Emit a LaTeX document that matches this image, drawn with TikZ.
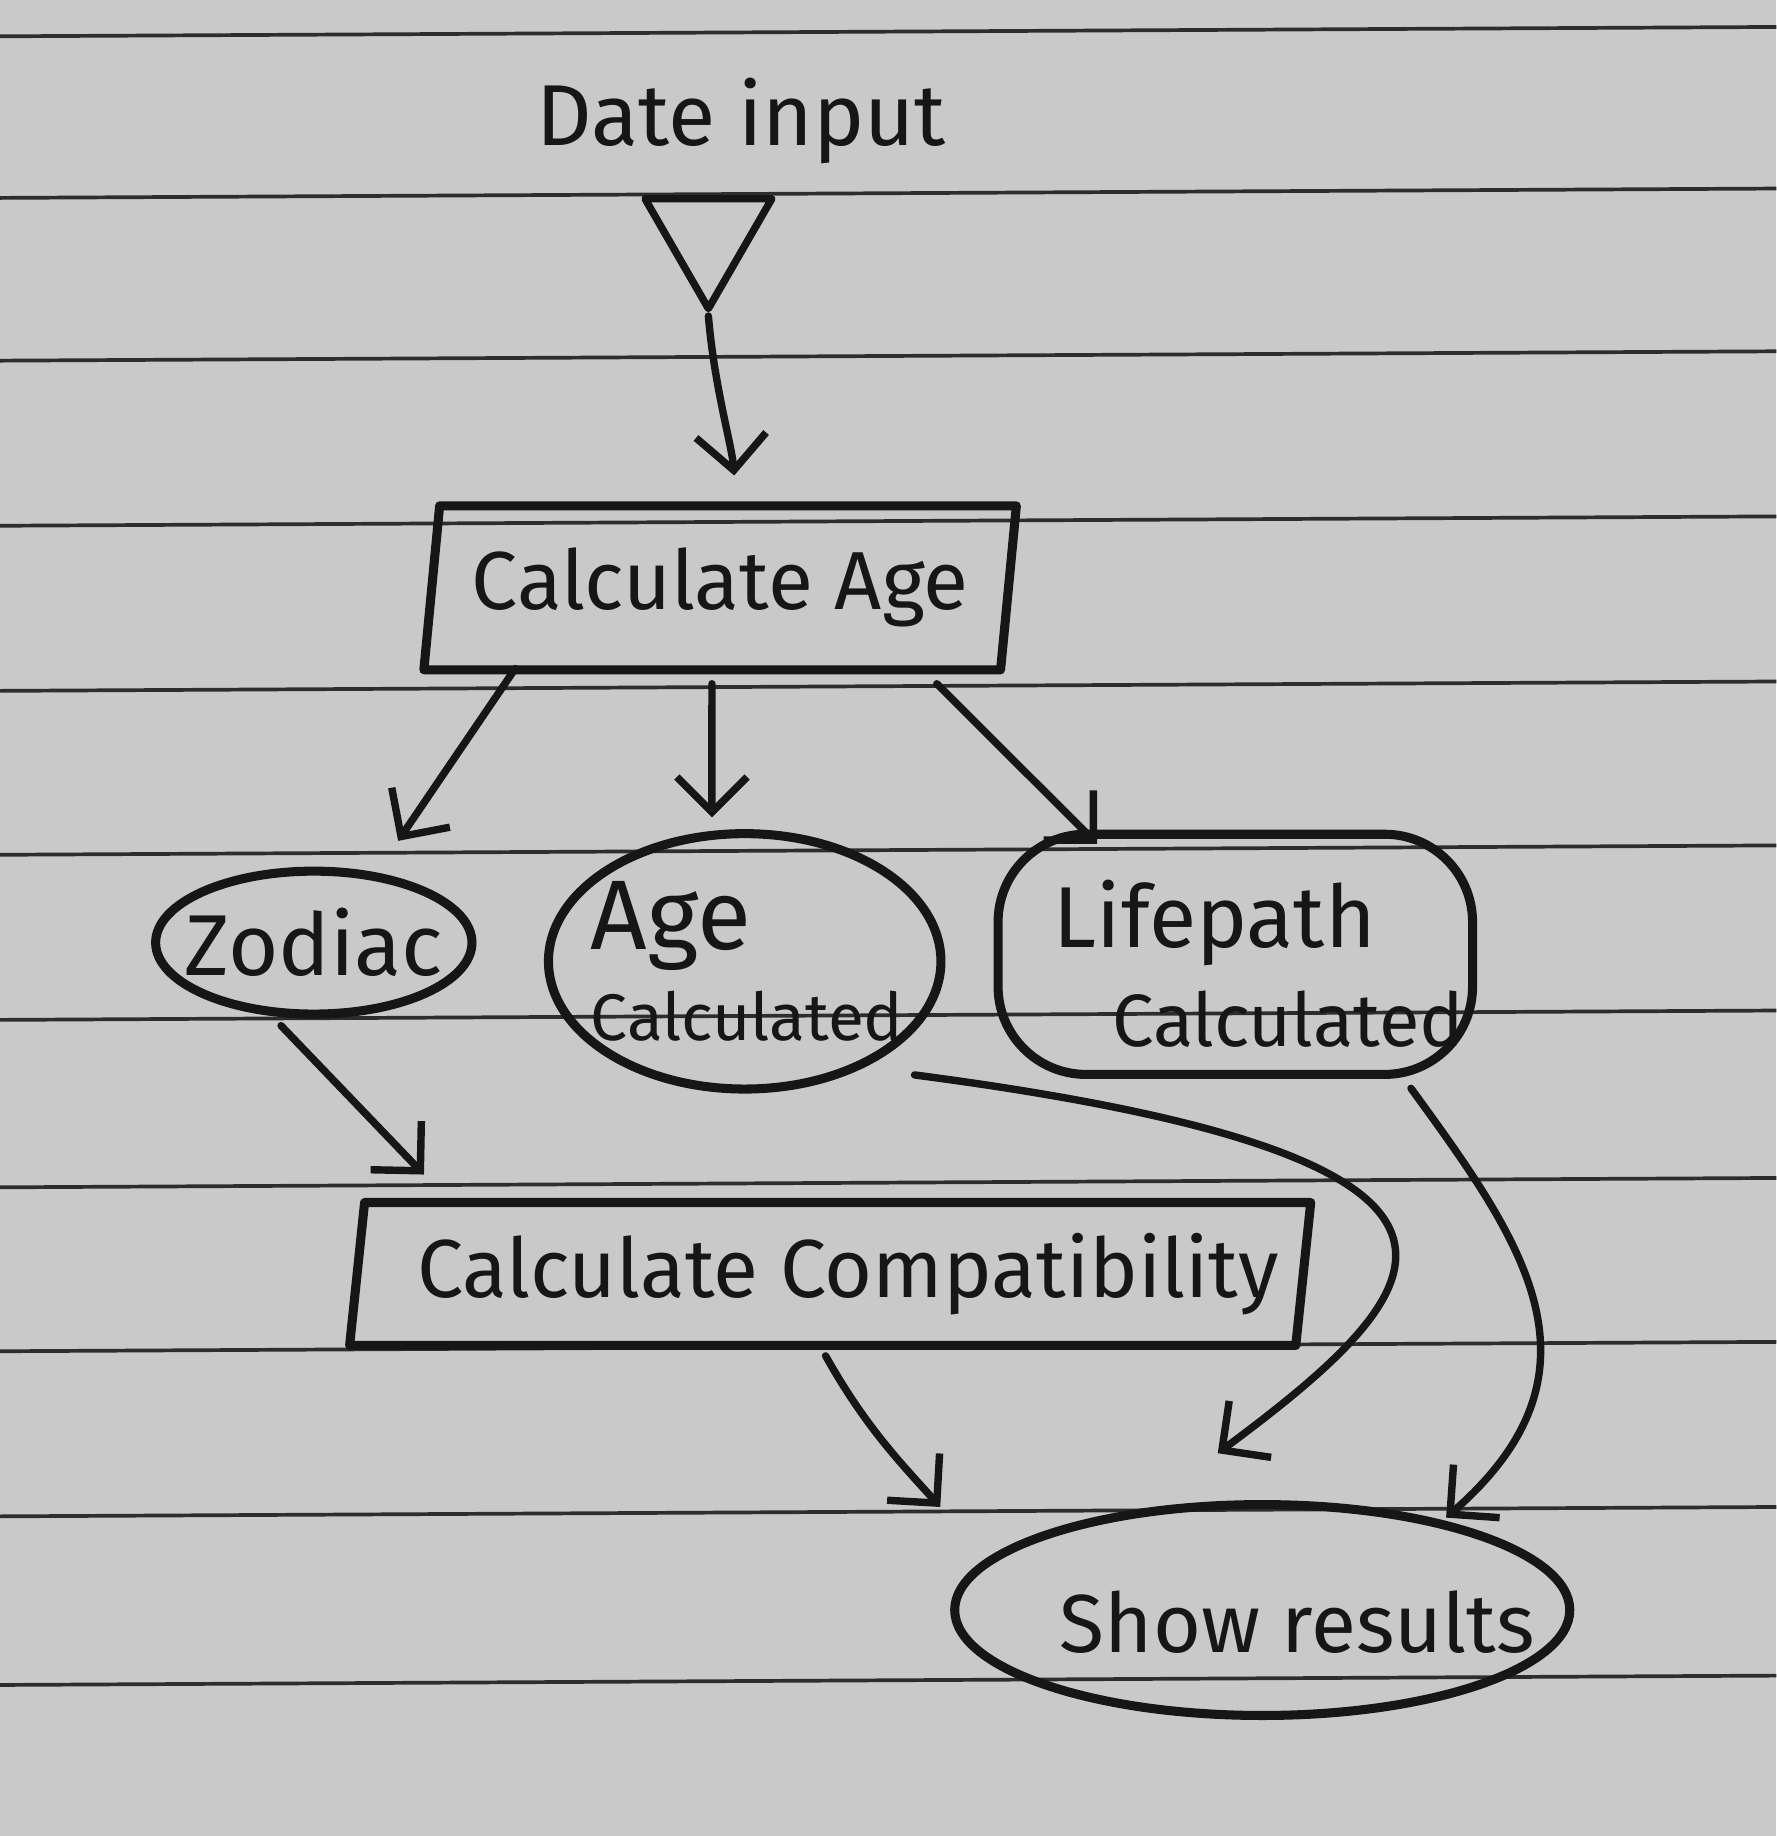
\documentclass[tikz,border=0pt]{standalone}
\usepackage{fontspec}
\setmainfont{Fira Sans}
\usetikzlibrary{shapes.geometric,arrows.meta,calc}
\definecolor{paper}{RGB}{201,201,201}
\definecolor{rulec}{RGB}{45,45,45}
\definecolor{ink}{RGB}{22,22,22}
\begin{document}
\begin{tikzpicture}[x=0.01cm,y=-0.01cm,
  inkline/.style={draw=ink, line width=1.8pt, line join=round, line cap=round},
  arr/.style={inkline, -{Straight Barb[length=3mm,width=6mm]}},
  lbl/.style={font=\fontsize{20}{24}\selectfont, text=ink},
  procbox/.style={draw=ink, line width=2.2pt, line join=round, trapezium, trapezium left angle=80, trapezium right angle=100, trapezium stretches=true, inner sep=0pt, lbl},
  oval/.style={draw=ink, line width=2.2pt, ellipse, inner sep=0pt},
]
\fill[paper] (0,0) rectangle (1517,1568);
\useasboundingbox (0,0) rectangle (1517,1568);
\foreach \yy in {27,165,304,445,586,726,867,1010,1150,1291,1435}
  \draw[rulec, line width=0.9pt] (0,\yy+4) -- (1517,\yy-4);

\node[lbl, font=\fontsize{21}{24}\selectfont] (datein) at (633,103) {Date input};
\node[draw=ink, line width=1.8pt, line join=round, regular polygon, regular polygon sides=3, shape border rotate=180, minimum size=1.25cm, inner sep=0pt] (tri) at (605,201) {};
\node[procbox, minimum width=5.06cm, minimum height=1.4cm] (cage) at (615,502) {Calculate Age};
\node[oval, minimum width=2.7cm, minimum height=1.22cm,
  label={[lbl, font=\fontsize{21}{24}\selectfont]center:Zodiac}] (zod) at (268,805) {};
\node[oval, minimum width=3.35cm, minimum height=2.18cm,
  label={[lbl, align=left, font=\fontsize{16}{22}\selectfont, xshift=0.02cm]center:{{\fontsize{24}{24}\selectfont Age}\\Calculated}}] (agec) at (636,821) {};
\node[draw=ink, line width=2.2pt, rectangle, rounded corners=0.75cm, minimum width=4.05cm, minimum height=2.05cm, inner sep=0pt,
  label={[lbl, align=left, font=\fontsize{18}{24}\selectfont, xshift=0.2cm, yshift=-0.08cm]center:{{\fontsize{21}{24}\selectfont Lifepath}\\\hspace*{0.5cm}Calculated}}] (life) at (1055,815) {};
\node[procbox, minimum width=8.22cm, minimum height=1.22cm] (ccomp) at (709,1088) {\hspace*{0.3cm}Calculate Compatibility};
\node[oval, minimum width=5.25cm, minimum height=1.8cm,
  label={[lbl, xshift=0.3cm, yshift=-0.1cm]center:Show results}] (show) at (1078,1375) {};

\draw[arr] (tri.south) .. controls (610,330) and (625,380) .. ($(cage.north)+(12,-22)$);
\draw[arr] ($(cage.south)+(-175,-5)$) -- ($(zod.north)+(72,-22)$);
\draw[arr] ($(cage.south)+(-7,8)$) -- ($(agec.north)+(-28,-10)$);
\draw[arr] ($(cage.south)+(185,8)$) -- ($(life.north)+(-118,12)$);
\draw[arr] ($(zod.south)+(-28,6)$) -- ($(ccomp.north)+(-347,-20)$);
\draw[arr] ($(agec.center)+(145,97)$) .. controls (1330,990) and (1230,1100) .. ($(show.north)+(-38,-40)$);
\draw[arr] ($(life.south)+(150,8)$) .. controls (1300,1060) and (1380,1170) .. ($(show.north)+(157,15)$);
\draw[arr] ($(ccomp.south)+(-4,5)$) .. controls (740,1220) and (770,1250) .. ($(show.center)+(-275,-88)$);
\end{tikzpicture}
\end{document}
